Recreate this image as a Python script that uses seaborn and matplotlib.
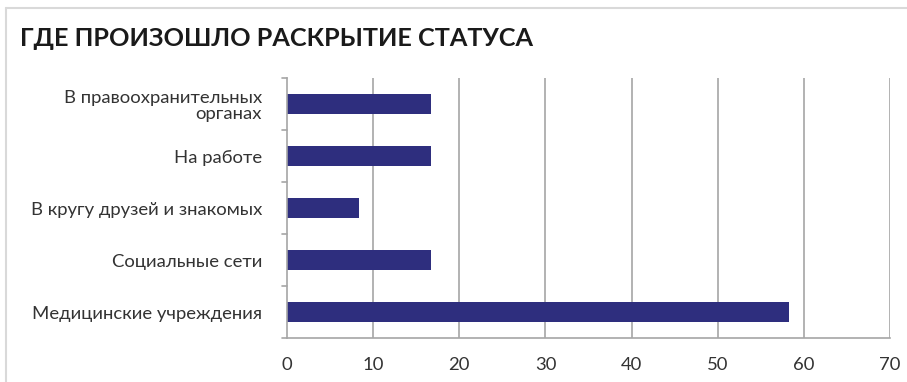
import matplotlib
matplotlib.use("Agg")
import matplotlib.pyplot as plt
import seaborn as sns
import pandas as pd
from matplotlib.lines import Line2D

categories = ["В правоохранительных\nорганах", "На работе", "В кругу друзей и знакомых",
              "Социальные сети", "Медицинские учреждения"]
values = [16.67, 16.67, 8.33, 16.67, 58.33]
x_ticks = [0, 10, 20, 30, 40, 50, 60, 70]
title = "ГДЕ ПРОИЗОШЛО РАСКРЫТИЕ СТАТУСА"

sns.set_style("white")
plt.rcParams["font.family"] = ["Lato", "DejaVu Sans"]

df = pd.DataFrame({"cat": categories, "val": values})

fig = plt.figure(figsize=(9.07, 3.82), dpi=100)
ax = fig.add_axes([287/907, 44/382, (890-287)/907, (338-78)/382])

sns.barplot(data=df, y="cat", x="val", orient="h", color="#2e2e7e", saturation=1,
            width=0.4, ax=ax, edgecolor="none")

ax.set_xlim(0, 70)
ax.set_ylim(4.5, -0.5)
ax.set_xticks(x_ticks)
ax.set_xticklabels([str(t) for t in x_ticks], fontsize=13.3, color="#333333")
ax.set_yticks(range(len(categories)))
ax.set_yticklabels(categories, fontsize=13.3, color="#333333", ha="right",
                   multialignment="right", linespacing=1.0)
ax.set_xlabel("")
ax.set_ylabel("")
ax.tick_params(axis="y", length=0, pad=18)
ax.tick_params(axis="x", length=5, width=1.2, color="#a6a6a6", direction="out", pad=9)

for t in x_ticks[1:]:
    ax.axvline(t, color="#a6a6a6", lw=1.2, zorder=0)

for s in ["top", "right"]:
    ax.spines[s].set_visible(False)
for s in ["left", "bottom"]:
    ax.spines[s].set_color("#a6a6a6")
    ax.spines[s].set_linewidth(1.2)

# category boundary ticks on y axis
for b in [-0.5, 0.5, 1.5, 2.5, 3.5, 4.5]:
    ax.plot([-0.0085, 0], [b, b], transform=ax.get_yaxis_transform(),
            color="#a6a6a6", lw=1.2, clip_on=False)

fig.text(20/907, 1 - 46/382, title, fontsize=18.2, fontweight="bold",
         color="#1a1a1a", ha="left", va="baseline")

# outer frame
fig.add_artist(Line2D([6/907, 1], [1 - 8/382, 1 - 8/382], transform=fig.transFigure,
                      color="#d9d9d9", lw=1.5))
fig.add_artist(Line2D([6/907, 6/907], [0, 1 - 8/382], transform=fig.transFigure,
                      color="#d9d9d9", lw=1.5))

fig.savefig("out.png", dpi=100)
